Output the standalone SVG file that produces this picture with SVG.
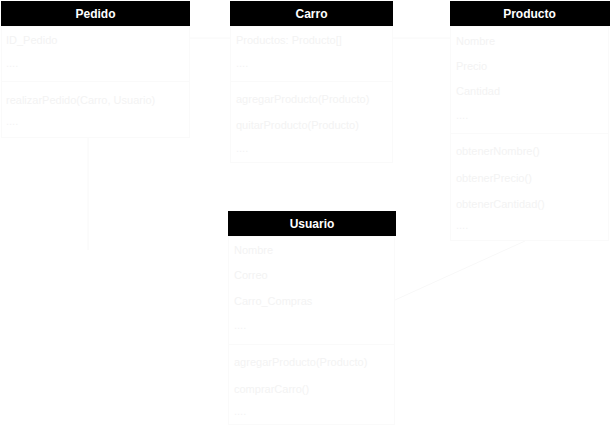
<svg xmlns="http://www.w3.org/2000/svg" width="610" height="430" viewBox="0 0 610 430">
<style>
.hd{fill:#000}
.bd{fill:#fff;stroke:#fafafa;stroke-width:1}
.sep{stroke:#fafafa;stroke-width:1}
.ht{font-family:"Liberation Sans",Arial,sans-serif;font-size:12px;font-weight:bold;fill:#fff;text-anchor:middle}
.t{font-family:"Liberation Sans",Arial,sans-serif;font-size:11px;fill:#f3f3f3}
.cn{fill:none;stroke:#f8f8f8;stroke-width:1}
</style>
<rect width="610" height="430" fill="#fff"/>
<g id="connectors">
<path class="cn" d="M190,38 H230"/>
<path class="cn" d="M393,38 H450"/>
<path class="cn" d="M88,137 V250"/>
<path class="cn" d="M395,300 L525,241"/>
</g>
<g id="pedido">
<rect class="bd" x="1.5" y="26.5" width="188" height="111"/>
<rect class="hd" x="1" y="1" width="189" height="25"/>
<text class="ht" x="95.5" y="18">Pedido</text>
<text class="t" x="6" y="44">ID_Pedido</text>
<text class="t" x="6" y="67">....</text>
<line class="sep" x1="2" y1="81.5" x2="189" y2="81.5"/>
<text class="t" x="6" y="104">realizarPedido(Carro, Usuario)</text>
<text class="t" x="6" y="125">....</text>
</g>
<g id="carro">
<rect class="bd" x="230.5" y="26.5" width="162" height="136"/>
<rect class="hd" x="230" y="1" width="163" height="25"/>
<text class="ht" x="311.5" y="18">Carro</text>
<text class="t" x="236" y="44">Productos: Producto[]</text>
<text class="t" x="236" y="67">....</text>
<line class="sep" x1="231" y1="81.5" x2="392" y2="81.5"/>
<text class="t" x="236" y="103">agregarProducto(Producto)</text>
<text class="t" x="236" y="129">quitarProducto(Producto)</text>
<text class="t" x="236" y="152">....</text>
</g>
<g id="producto">
<rect class="bd" x="450.5" y="26.5" width="158" height="214"/>
<rect class="hd" x="450" y="1" width="160" height="25"/>
<text class="ht" x="529.5" y="18">Producto</text>
<text class="t" x="456" y="45">Nombre</text>
<text class="t" x="456" y="70">Precio</text>
<text class="t" x="456" y="95">Cantidad</text>
<text class="t" x="456" y="119">....</text>
<line class="sep" x1="451" y1="133.5" x2="608" y2="133.5"/>
<text class="t" x="456" y="155">obtenerNombre()</text>
<text class="t" x="456" y="182">obtenerPrecio()</text>
<text class="t" x="456" y="208">obtenerCantidad()</text>
<text class="t" x="456" y="229">....</text>
</g>
<g id="usuario">
<rect class="bd" x="228.5" y="236.5" width="166" height="188"/>
<rect class="hd" x="228" y="211" width="168" height="25"/>
<text class="ht" x="312" y="228">Usuario</text>
<text class="t" x="234" y="254">Nombre</text>
<text class="t" x="234" y="279">Correo</text>
<text class="t" x="234" y="305">Carro_Compras</text>
<text class="t" x="234" y="329">....</text>
<line class="sep" x1="229" y1="344.5" x2="394" y2="344.5"/>
<text class="t" x="234" y="366">agregarProducto(Producto)</text>
<text class="t" x="234" y="393">comprarCarro()</text>
<text class="t" x="234" y="415">....</text>
</g>
</svg>
